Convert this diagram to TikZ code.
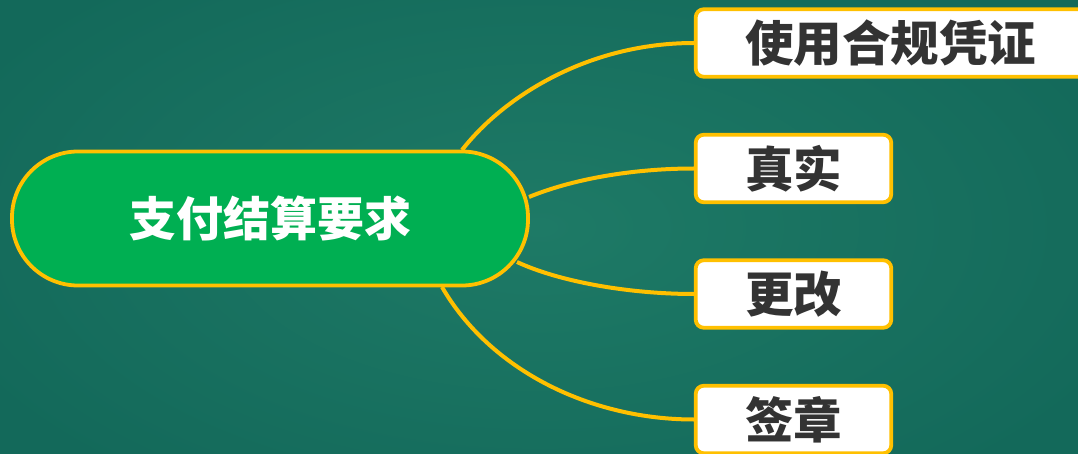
\documentclass[tikz,border=0pt]{standalone}
\usepackage{fontspec}
\newfontfamily\cjk{Noto Sans CJK SC}
\definecolor{gold}{HTML}{FFC000}
\definecolor{mgreen}{HTML}{00AF52}
\definecolor{bgin}{HTML}{1E7A66}
\definecolor{bgout}{HTML}{13695A}
\definecolor{txt}{HTML}{333333}
\begin{document}
\begin{tikzpicture}[x=1pt,y=-1pt,
  link/.style={draw=gold, line width=4pt},
  leaf/.style={draw=gold, line width=3.8pt, fill=white, rounded corners=8pt,
    minimum height=67.5pt, inner sep=0pt, text=txt,
    font=\cjk\bfseries\fontsize{48.5}{48.5}\selectfont},
  hub/.style={draw=gold, line width=3.8pt, fill=mgreen, rounded corners=66pt,
    minimum width=516pt, minimum height=134pt, inner sep=0pt, text=white,
    font=\cjk\bfseries\fontsize{47}{47}\selectfont}]
\useasboundingbox (0,0) rectangle (1078,454);
\clip (0,0) rectangle (1078,454);
\shade[inner color=bgin, outer color=bgout] (-100,-100) rectangle (1178,554);

\node[hub] (c) at (270,218.5) {支付结算要求};
\node[leaf, minimum width=390pt] (b1) at (890.75,43) {使用合规凭证};
\node[leaf, minimum width=195.5pt] (b2) at (793.5,168.5) {真实};
\node[leaf, minimum width=195.5pt] (b3) at (793.5,294) {更改};
\node[leaf, minimum width=195.5pt] (b4) at (793.5,419.5) {签章};

\draw[link] ([shift={(192,-68.5)}]c.center) .. controls (505,95) and (590,43) .. (b1.west);
\draw[link] ([shift={(259,-21.5)}]c.center) .. controls (570,180) and (630,168.5) .. (b2.west);
\draw[link] ([shift={(247,43.5)}]c.center) .. controls (560,282) and (630,294) .. (b3.west);
\draw[link] ([shift={(172,68.5)}]c.center) .. controls (490,370) and (590,419.5) .. (b4.west);
\end{tikzpicture}
\end{document}
